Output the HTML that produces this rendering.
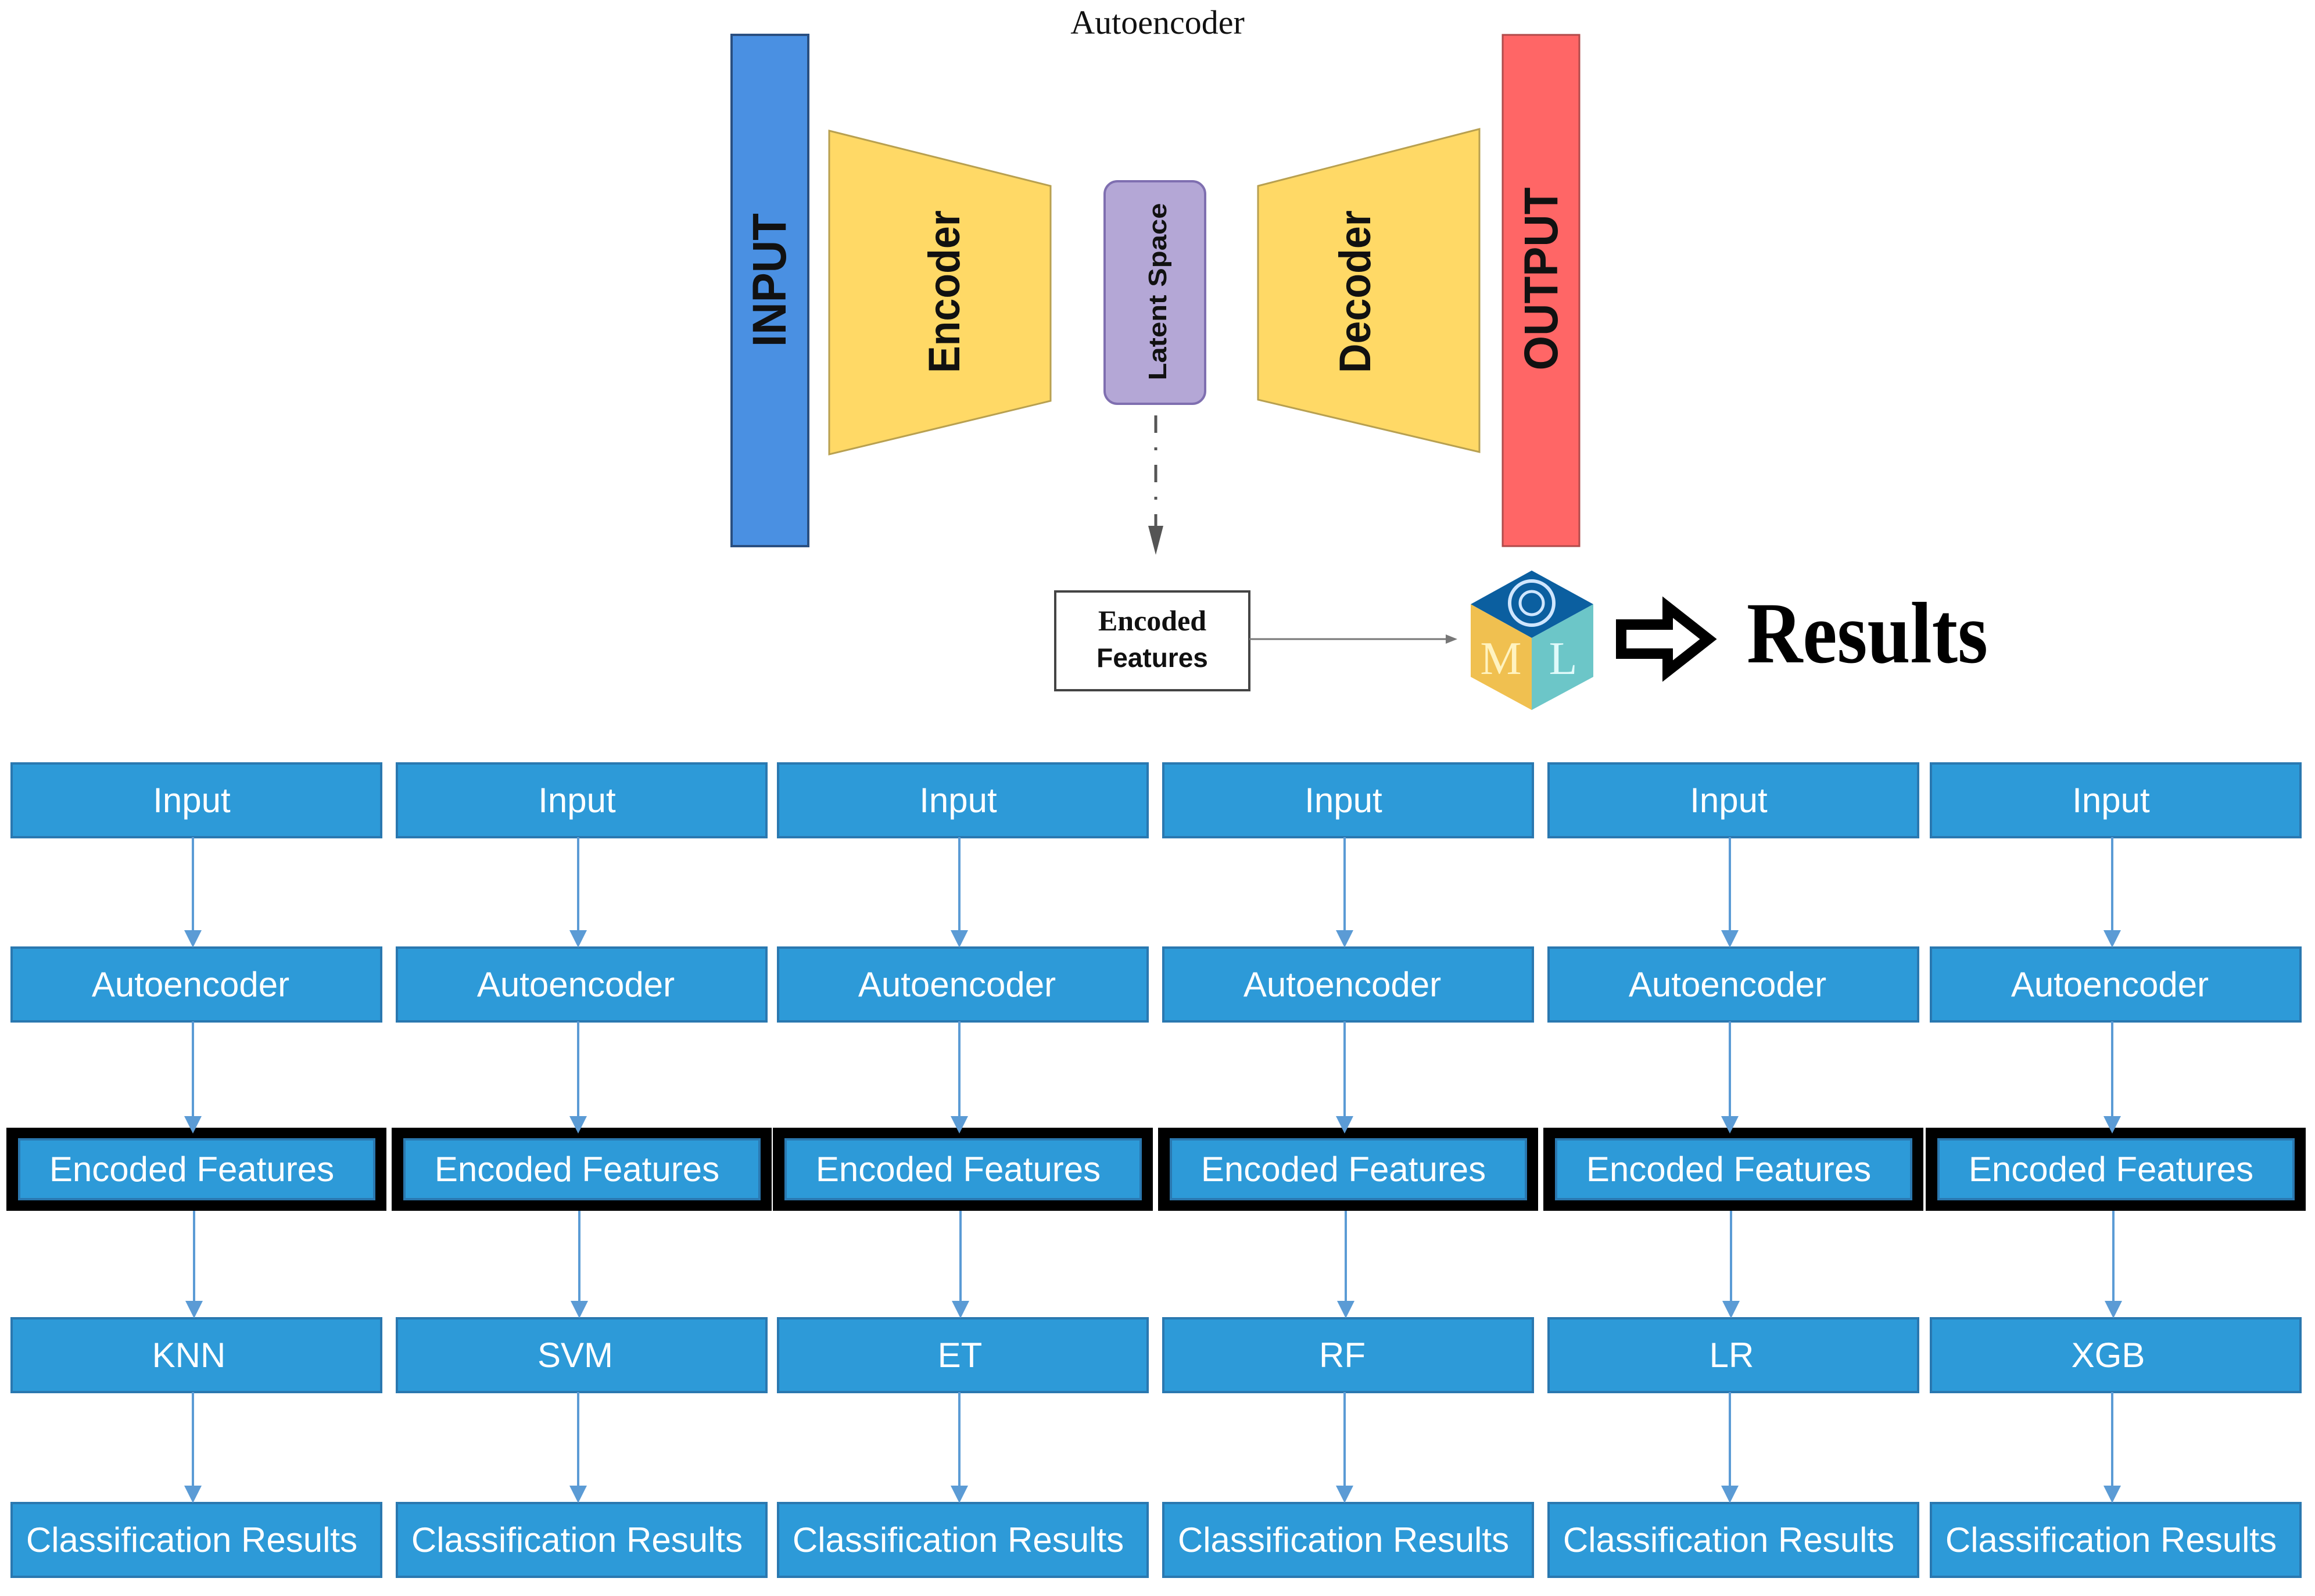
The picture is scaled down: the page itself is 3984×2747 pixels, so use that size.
<!DOCTYPE html>
<html><head><meta charset="utf-8"><style>html,body{margin:0;padding:0;background:#fff}svg{display:block}</style></head><body>
<svg width="3984" height="2747" viewBox="0 0 3984 2747" xmlns="http://www.w3.org/2000/svg">
<defs>
<g id="col">
<rect x="-9" y="1941" width="654" height="143" fill="#000"/>
<rect x="0" y="1314" width="636" height="127" fill="#2d9ad8" stroke="#2a78b0" stroke-width="4"/>
<rect x="0" y="1631" width="636" height="127" fill="#2d9ad8" stroke="#2a78b0" stroke-width="4"/>
<rect x="13" y="1961" width="611" height="103" fill="#2d9ad8" stroke="#2a78b0" stroke-width="4"/>
<rect x="0" y="2269" width="636" height="127" fill="#2d9ad8" stroke="#2a78b0" stroke-width="4"/>
<rect x="0" y="2587" width="636" height="127" fill="#2d9ad8" stroke="#2a78b0" stroke-width="4"/>
<g stroke="#5b9bd5" stroke-width="4">
<line x1="312" y1="1441" x2="312" y2="1615"/>
<line x1="312" y1="1758" x2="312" y2="1935"/>
<line x1="314" y1="2084" x2="314" y2="2253"/>
<line x1="312" y1="2396" x2="312" y2="2571"/>
</g>
<g fill="#5b9bd5">
<polygon points="297,1601 327,1601 312,1631"/>
<polygon points="297,1921 327,1921 312,1951"/>
<polygon points="299,2239 329,2239 314,2269"/>
<polygon points="297,2557 327,2557 312,2587"/>
</g>
</g>
</defs>
<rect width="3984" height="2747" fill="#fff"/>
<text x="1992" y="58" font-family="Liberation Serif, serif" font-size="58" text-anchor="middle" fill="#111">Autoencoder</text>
<rect x="1259" y="60" width="132" height="880" fill="#4a90e2" stroke="#2a4f80" stroke-width="4"/>
<rect x="2586" y="60" width="132" height="880" fill="#ff6666" stroke="#b04a4a" stroke-width="3"/>
<polygon points="1427,225 1808,320 1808,690 1427,782" fill="#ffd966" stroke="#b8a050" stroke-width="3"/>
<polygon points="2165,320 2546,222 2546,778 2165,688" fill="#ffd966" stroke="#b8a050" stroke-width="3"/>
<rect x="1901" y="312" width="173" height="383" rx="22" fill="#b4a7d6" stroke="#7f6fb0" stroke-width="4"/>
<g font-family="Liberation Sans, sans-serif" font-weight="bold" fill="#111">
<text transform="translate(1352,482) rotate(-90)" font-size="82" text-anchor="middle" textLength="230" lengthAdjust="spacingAndGlyphs">INPUT</text>
<text transform="translate(1651,502) rotate(-90)" font-size="76" text-anchor="middle" textLength="280" lengthAdjust="spacingAndGlyphs">Encoder</text>
<text transform="translate(2007,502) rotate(-90)" font-size="44" text-anchor="middle" textLength="305" lengthAdjust="spacingAndGlyphs">Latent Space</text>
<text transform="translate(2358,502) rotate(-90)" font-size="76" text-anchor="middle" textLength="280" lengthAdjust="spacingAndGlyphs">Decoder</text>
<text transform="translate(2680,480) rotate(-90)" font-size="82" text-anchor="middle" textLength="315" lengthAdjust="spacingAndGlyphs">OUTPUT</text>
</g>
<line x1="1989" y1="715" x2="1989" y2="920" stroke="#555" stroke-width="5" stroke-dasharray="30,25,5,25"/>
<polygon points="1976,905 2002,905 1989,955" fill="#555"/>
<rect x="1816" y="1018" width="334" height="170" fill="#fff" stroke="#444" stroke-width="4"/>
<text x="1983" y="1085" font-family="Liberation Serif, serif" font-weight="bold" font-size="50" text-anchor="middle" fill="#111">Encoded</text>
<text x="1983" y="1148" font-family="Liberation Sans, sans-serif" font-weight="bold" font-size="46" text-anchor="middle" fill="#111">Features</text>
<line x1="2150" y1="1100" x2="2495" y2="1100" stroke="#777" stroke-width="3"/>
<polygon points="2488,1092 2508,1100 2488,1108" fill="#777"/>
<polygon points="2636,982 2742,1040 2636,1098 2531,1040" fill="#0b5fa0"/>
<circle cx="2636" cy="1038" r="38" fill="none" stroke="#cfe6ff" stroke-width="6"/>
<circle cx="2636" cy="1038" r="20" fill="none" stroke="#cfe6ff" stroke-width="5"/>
<polygon points="2531,1040 2636,1098 2636,1222 2531,1165" fill="#f0c050"/>
<polygon points="2636,1098 2742,1040 2742,1165 2636,1222" fill="#6cc6c8"/>
<text x="2583" y="1160" font-family="Liberation Serif, serif" font-size="80" fill="#fff3c0" text-anchor="middle">M</text>
<text x="2690" y="1160" font-family="Liberation Serif, serif" font-size="80" fill="#e0fafa" text-anchor="middle">L</text>
<polygon points="2790,1075 2870,1075 2870,1045 2940,1100 2870,1155 2870,1125 2790,1125" fill="#fff" stroke="#000" stroke-width="18"/>
<text x="3006" y="1140" font-family="Liberation Serif, serif" font-weight="bold" font-size="150" fill="#000" textLength="415" lengthAdjust="spacingAndGlyphs">Results</text>

<use href="#col" transform="translate(20,0)"/>
<use href="#col" transform="translate(683,0)"/>
<use href="#col" transform="translate(1339,0)"/>
<use href="#col" transform="translate(2002,0)"/>
<use href="#col" transform="translate(2665,0)"/>
<use href="#col" transform="translate(3323,0)"/>

<g font-family="Liberation Sans, sans-serif" fill="#fff" font-size="60" text-anchor="middle">
<text x="330" y="1398">Input</text><text x="993" y="1398">Input</text><text x="1649" y="1398">Input</text><text x="2312" y="1398">Input</text><text x="2975" y="1398">Input</text><text x="3633" y="1398">Input</text>
<text x="328" y="1715">Autoencoder</text><text x="991" y="1715">Autoencoder</text><text x="1647" y="1715">Autoencoder</text><text x="2310" y="1715">Autoencoder</text><text x="2973" y="1715">Autoencoder</text><text x="3631" y="1715">Autoencoder</text>
<text x="330" y="2033">Encoded Features</text><text x="993" y="2033">Encoded Features</text><text x="1649" y="2033">Encoded Features</text><text x="2312" y="2033">Encoded Features</text><text x="2975" y="2033">Encoded Features</text><text x="3633" y="2033">Encoded Features</text>
<text x="325" y="2353">KNN</text><text x="990" y="2353">SVM</text><text x="1652" y="2353">ET</text><text x="2310" y="2353">RF</text><text x="2980" y="2353">LR</text><text x="3628" y="2353">XGB</text>
<text x="330" y="2671">Classification Results</text><text x="993" y="2671">Classification Results</text><text x="1649" y="2671">Classification Results</text><text x="2312" y="2671">Classification Results</text><text x="2975" y="2671">Classification Results</text><text x="3633" y="2671">Classification Results</text>
</g>
</svg>
</body></html>
